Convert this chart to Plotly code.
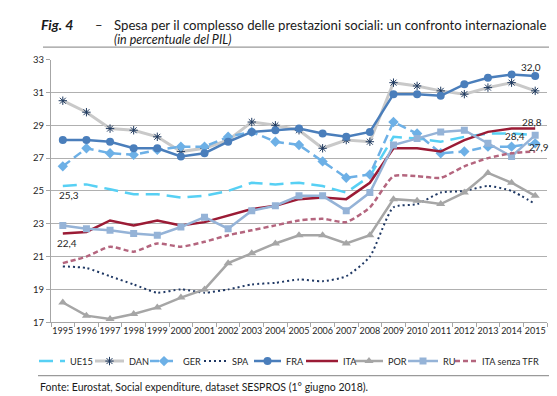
import plotly.graph_objects as go

years = list(range(1995, 2016))
ue15 = [25.3, 25.4, 25.1, 24.8, 24.8, 24.6, 24.7, 25.0, 25.5, 25.4, 25.5, 25.3, 24.9, 25.9, 28.3, 28.2, 28.0, 28.3, 28.5, 28.5, 28.4]
dan = [30.5, 29.8, 28.8, 28.7, 28.3, 27.4, 27.6, 28.1, 29.2, 29.0, 28.7, 27.6, 28.1, 28.0, 31.6, 31.4, 31.1, 30.9, 31.3, 31.6, 31.1]
ger = [26.5, 27.6, 27.3, 27.2, 27.5, 27.7, 27.7, 28.3, 28.6, 28.0, 27.8, 26.8, 25.8, 26.0, 29.2, 28.5, 27.3, 27.4, 27.7, 27.7, 27.9]
spa = [20.4, 20.3, 19.8, 19.3, 18.8, 19.0, 18.8, 19.0, 19.3, 19.4, 19.6, 19.5, 19.8, 21.0, 24.0, 24.2, 24.9, 25.0, 25.3, 25.0, 24.2]
fra = [28.1, 28.1, 28.0, 27.6, 27.6, 27.1, 27.3, 28.0, 28.6, 28.7, 28.8, 28.5, 28.3, 28.6, 30.9, 30.9, 30.8, 31.5, 31.9, 32.1, 32.0]
ita = [22.4, 22.5, 23.2, 22.9, 23.2, 22.9, 23.1, 23.5, 23.9, 24.1, 24.5, 24.6, 24.5, 25.5, 27.6, 27.6, 27.4, 28.1, 28.6, 28.8, 28.8]
por = [18.2, 17.4, 17.2, 17.5, 17.9, 18.5, 19.0, 20.6, 21.2, 21.8, 22.3, 22.3, 21.8, 22.3, 24.5, 24.4, 24.2, 24.9, 26.1, 25.5, 24.7]
ru = [22.9, 22.7, 22.6, 22.4, 22.3, 22.8, 23.4, 22.7, 23.8, 24.1, 24.7, 24.7, 23.8, 24.9, 27.8, 28.2, 28.6, 28.7, 27.9, 27.1, 28.4]
ita_tfr = [20.6, 21.0, 21.6, 21.3, 21.8, 21.6, 21.9, 22.3, 22.6, 22.9, 23.2, 23.3, 23.1, 24.0, 25.9, 25.9, 25.8, 26.5, 27.0, 27.3, 27.4]

series_names = ["UE15", "DAN", "GER", "SPA", "FRA", "ITA", "POR", "RU", "ITA senza TFR"]
y_ticks = [17, 19, 21, 23, 25, 27, 29, 31, 33]

FONT = "Lato"
TXT = "#262626"
W, H = 557, 396
L, R, T, B = 43, 539, 47, 317


def fx(x):
    return x / W


def fy(y):
    return 1 - y / H


styles = {
    "UE15": dict(line=dict(color="#57D0F4", width=2.5, dash="14px,7px"), marker=None),
    "DAN": dict(line=dict(color="#C9C9C9", width=3),
                marker=dict(symbol="asterisk-open", size=7, color="#1F3A60",
                            line=dict(color="#1F3A60", width=1))),
    "GER": dict(line=dict(color="#6DB0E6", width=2.5, dash="9px,5px"),
                marker=dict(symbol="diamond", size=8, color="#6DB0E6")),
    "SPA": dict(line=dict(color="#1F3864", width=2, dash="2px,3px", shape="spline", smoothing=0.6),
                marker=None),
    "FRA": dict(line=dict(color="#4A7EBB", width=2.5),
                marker=dict(symbol="circle", size=8, color="#4A7EBB")),
    "ITA": dict(line=dict(color="#9B1B35", width=2.5), marker=None),
    "POR": dict(line=dict(color="#A6A6A6", width=2.5),
                marker=dict(symbol="triangle-up", size=8, color="#A6A6A6")),
    "RU": dict(line=dict(color="#95B3D7", width=2.5),
               marker=dict(symbol="square", size=7, color="#95B3D7")),
    "ITA senza TFR": dict(line=dict(color="#B4657E", width=2.5, dash="5px,3px",
                                    shape="spline", smoothing=0.6), marker=None),
}
data = dict(zip(series_names, [ue15, dan, ger, spa, fra, ita, por, ru, ita_tfr]))

fig = go.Figure()
for name in series_names:
    st = styles[name]
    kw = dict(x=years, y=data[name], name=name, line=st["line"], showlegend=False,
              xaxis="x", yaxis="y")
    if st["marker"] is not None:
        kw["mode"] = "lines+markers"
        kw["marker"] = st["marker"]
    else:
        kw["mode"] = "lines"
    fig.add_trace(go.Scatter(**kw))

# manual legend (layout positions in pixels on a hidden helper axis)
legend_pos = [(31, 57, 60), (87, 116, 119), (142, 170, 173), (196, 219, 222),
              (246, 273, 276), (298, 330, 333), (347, 375, 378), (400, 430, 433),
              (447, 470, 472)]
LEG_Y = 357
annotations = []
for name, (x0, x1, xt) in zip(series_names, legend_pos):
    st = styles[name]
    ln = dict(st["line"])
    ln.pop("shape", None)
    ln.pop("smoothing", None)
    fig.add_trace(go.Scatter(x=[x0, x1], y=[LEG_Y, LEG_Y], mode="lines", line=ln,
                             showlegend=False, hoverinfo="skip", xaxis="x2", yaxis="y2"))
    if st["marker"] is not None:
        fig.add_trace(go.Scatter(x=[(x0 + x1) / 2], y=[LEG_Y], mode="markers",
                                 marker=st["marker"], showlegend=False, hoverinfo="skip",
                                 xaxis="x2", yaxis="y2"))
    annotations.append(dict(x=xt, y=LEG_Y, xref="x2", yref="y2", text=name,
                            showarrow=False, xanchor="left", yanchor="middle",
                            font=dict(family=FONT, size=9.2, color=TXT)))

# data labels
labels = [
    (years[0], ue15[0], "25,3", 6, -9),
    (years[0], ita[0], "22,4", 4, -9),
    (years[-1], fra[-1], "32,0", -4, 9),
    (years[-1], ita[-1], "28,8", -3, 7),
    (years[-1], ue15[-1], "28,4", -20, -1),
    (years[-1], ger[-1], "27,9", 4, -4),
]
for xv, yv, txt, xs, ys in labels:
    annotations.append(dict(x=xv, y=yv, xref="x", yref="y", text=txt,
                            showarrow=False, xshift=xs, yshift=ys,
                            font=dict(family=FONT, size=10, color=TXT)))

# title and source
annotations.append(dict(x=fx(31), y=fy(11), xref="paper", yref="paper",
                        text="<b><i>Fig. 4</i></b>", showarrow=False,
                        xanchor="left", yanchor="middle",
                        font=dict(family=FONT, size=14, color="#1a1a1a")))
annotations.append(dict(x=fx(85), y=fy(11), xref="paper", yref="paper",
                        text="–", showarrow=False,
                        xanchor="left", yanchor="middle",
                        font=dict(family=FONT, size=13, color="#1a1a1a")))
annotations.append(dict(x=fx(104), y=fy(11), xref="paper", yref="paper",
                        text="Spesa per il complesso delle prestazioni sociali: un confronto internazionale",
                        showarrow=False, xanchor="left", yanchor="middle",
                        font=dict(family=FONT, size=13.2, color="#1a1a1a")))
annotations.append(dict(x=fx(104), y=fy(26.5), xref="paper", yref="paper",
                        text="<i>(in percentuale del PIL)</i>", showarrow=False,
                        xanchor="left", yanchor="middle",
                        font=dict(family=FONT, size=12.5, color="#1a1a1a")))
annotations.append(dict(x=fx(30), y=fy(384), xref="paper", yref="paper",
                        text="Fonte: Eurostat, Social expenditure, dataset SESPROS (1° giugno 2018).",
                        showarrow=False, xanchor="left", yanchor="middle",
                        font=dict(family=FONT, size=10.5, color="#1a1a1a")))

shapes = [
    dict(type="line", xref="paper", yref="paper", x0=fx(35), x1=fx(555),
         y0=fy(34), y1=fy(34), line=dict(color="#9a9a9a", width=1.2)),
    dict(type="line", xref="paper", yref="paper", x0=fx(30), x1=fx(555),
         y0=fy(372), y1=fy(372), line=dict(color="#9a9a9a", width=1.2)),
]

fig.update_layout(
    width=W, height=H,
    margin=dict(l=0, r=0, t=0, b=0),
    paper_bgcolor="white", plot_bgcolor="rgba(0,0,0,0)",
    font=dict(family=FONT, size=9, color=TXT),
    showlegend=False,
    annotations=annotations,
    shapes=shapes,
    xaxis=dict(domain=[fx(L), fx(R)], anchor="y",
               range=[1994.5, 2015.5], tickmode="array", tickvals=years,
               ticktext=[str(y) for y in years], showgrid=False, zeroline=False,
               showline=True, linecolor="#A6A6A6", linewidth=1, ticks="",
               tickfont=dict(family=FONT, size=9, color=TXT),
               minor=dict(ticks="outside", tick0=1994.5, dtick=1, ticklen=4,
                          tickcolor="#A6A6A6", showgrid=False)),
    yaxis=dict(domain=[fy(B), fy(T)], anchor="x",
               range=[17, 33], tickmode="array", tickvals=y_ticks,
               showgrid=True, gridcolor="#B0B0B0", gridwidth=1, zeroline=False,
               showline=True, linecolor="#A6A6A6", linewidth=1,
               ticks="outside", ticklen=4, tickcolor="#A6A6A6",
               tickfont=dict(family=FONT, size=9.5, color=TXT)),
    xaxis2=dict(domain=[0, 1], anchor="y2", range=[0, W], visible=False, fixedrange=True),
    yaxis2=dict(domain=[fy(LEG_Y + 10), fy(LEG_Y - 10)], anchor="x2",
                range=[LEG_Y + 10, LEG_Y - 10], visible=False, fixedrange=True),
)

fig.write_html("out.html")
